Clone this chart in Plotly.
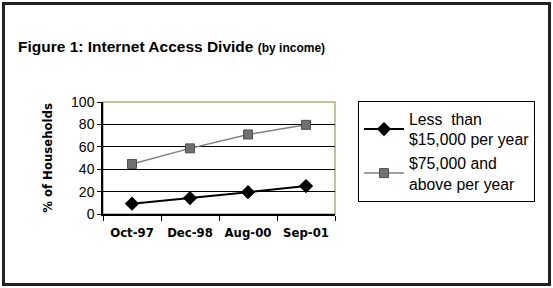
import plotly.graph_objects as go

categories = ["Oct-97", "Dec-98", "Aug-00", "Sep-01"]
low_income = [9.2, 14.2, 19.5, 24.9]
high_income = [44.7, 58.6, 71.0, 79.6]
series_names = ["Less  than<br>$15,000 per year", "$75,000 and<br>above per year"]
y_ticks = [0, 20, 40, 60, 80, 100]

W, H = 553, 288
L, R, T, B = 103, 335, 102, 214

fig = go.Figure()
fig.add_trace(go.Scatter(
    x=categories, y=low_income, name=series_names[0], mode="lines+markers",
    line=dict(color="black", width=2),
    marker=dict(symbol="diamond", size=11, color="black"),
))
fig.add_trace(go.Scatter(
    x=categories, y=high_income, name=series_names[1], mode="lines+markers",
    line=dict(color="#808080", width=1.5),
    marker=dict(symbol="square", size=9, color="#707070", line=dict(color="#505050", width=1)),
))

def px(x):
    return (x - L) / (R - L)

def py(y):
    return (B - y) / (B - T)

fig.update_layout(
    width=W, height=H,
    margin=dict(l=L, r=W - R, t=T, b=H - B, pad=0),
    paper_bgcolor="white", plot_bgcolor="white",
    font=dict(family="Liberation Sans, Arial", size=13, color="black"),
    showlegend=True,
    legend=dict(
        x=px(358), y=py(101), xanchor="left", yanchor="top",
        bordercolor="black", borderwidth=1, bgcolor="white",
        font=dict(family="Liberation Sans, Arial", size=15.8, color="black"),
        tracegroupgap=3, itemwidth=40,
    ),
    xaxis=dict(
        type="category", range=[-0.5, 3.5], tickson="boundaries",
        ticks="outside", ticklen=5, tickcolor="black", tickwidth=1,
        showline=True, linecolor="black", linewidth=2, showgrid=False,
        ticklabelstandoff=5,
        tickfont=dict(family="DejaVu Sans Condensed, DejaVu Sans", size=13, color="black", weight="bold"),
        fixedrange=True,
    ),
    yaxis=dict(
        range=[0, 100], tickvals=y_ticks, ticks="outside", ticklen=4,
        tickcolor="black", showline=True, linecolor="black", linewidth=1.5,
        showgrid=True, gridcolor="black", gridwidth=1, zeroline=False,
        tickfont=dict(family="Liberation Sans, Arial", size=14, color="black"),
        title=dict(text="% of Households", standoff=16,
                   font=dict(family="DejaVu Sans Condensed, DejaVu Sans", size=13, color="black", weight="bold")),
        fixedrange=True,
    ),
    shapes=[
        dict(type="rect", xref="paper", yref="paper", x0=0, x1=1, y0=0, y1=1,
             line=dict(color="#b0b070", width=1.5), layer="below"),
        dict(type="rect", xref="paper", yref="paper",
             x0=px(3.5), x1=px(549.5), y0=py(284.5), y1=py(3.5),
             line=dict(color="#222222", width=3), layer="above"),
    ],
    annotations=[
        dict(text="<b>Figure 1: Internet Access Divide</b> <b><span style='font-size:12px'>(by income)</span></b>",
             xref="paper", yref="paper", x=px(16), y=py(46), xanchor="left", yanchor="middle",
             showarrow=False, font=dict(family="Liberation Sans, Arial", size=15.5, color="black")),
    ],
)

fig.write_html("out.html", config={"displayModeBar": False},
               post_script="document.body.style.margin='0';document.body.style.overflow='hidden';")
